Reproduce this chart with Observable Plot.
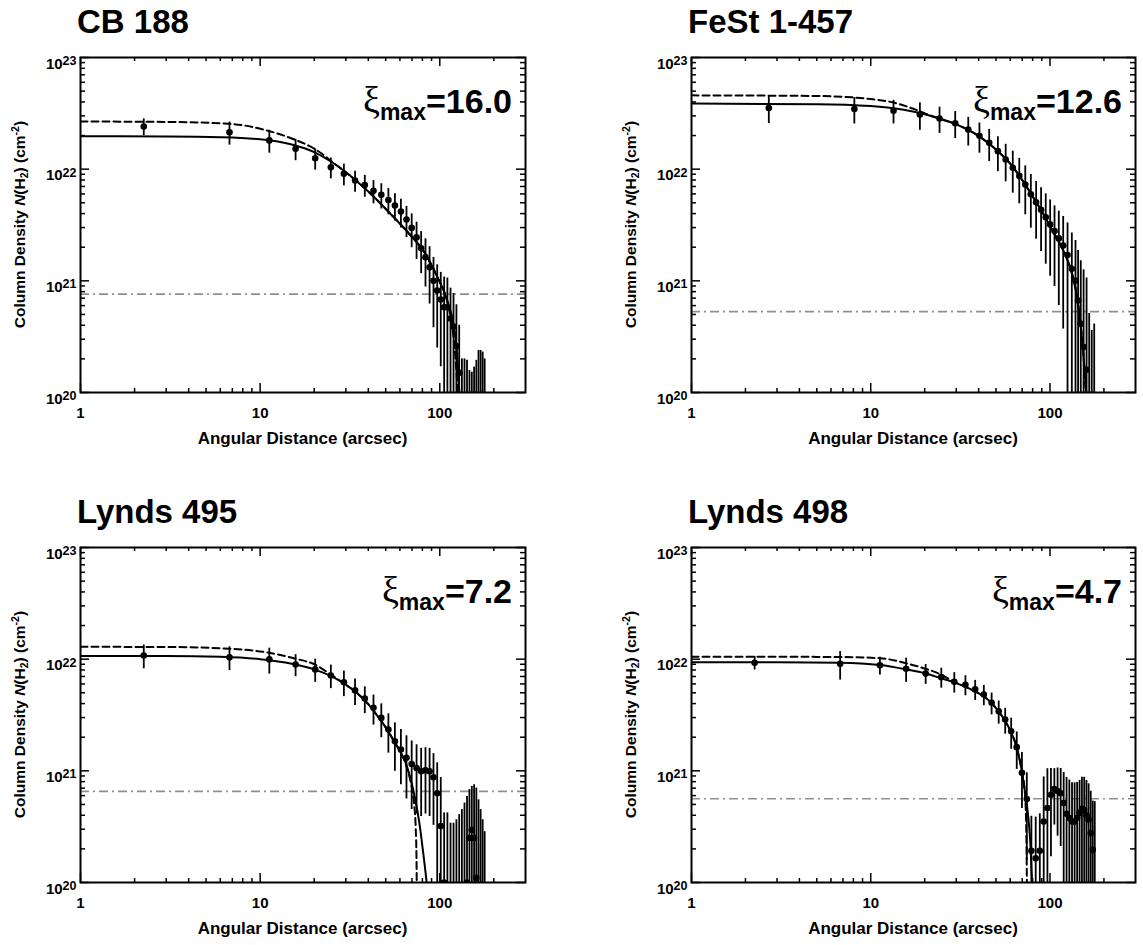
<!DOCTYPE html>
<html>
<head>
<meta charset="utf-8">
<script src="https://cdn.jsdelivr.net/npm/d3@7"></script>
<script src="https://cdn.jsdelivr.net/npm/@observablehq/plot@0.6"></script>
<style>
  body { margin: 0; background: #fff; }
  #page { position: relative; width: 1143px; height: 945px; overflow: hidden; background: #fff; }
  #page svg { position: absolute; }
</style>
</head>
<body>
<div id="page"></div>
<script>
// ---------------- data ----------------
const titles = ["CB 188", "FeSt 1-457", "Lynds 495", "Lynds 498"];
const xiMax = ["16.0", "12.6", "7.2", "4.7"];
const limits = [7.6e20, 5.3e20, 6.55e20, 5.62e20];

// radial bins (arcsec)
const binsA = [2.25, 6.75, 11.25, 15.75, 20.25, 24.75, 29.25, 33.75, 38.25, 42.75, 47.25, 51.75, 56.25, 60.75, 65.25, 69.75, 74.25, 78.75, 83.25, 87.75, 92.25, 96.75, 101.25, 105.75, 110.25, 114.75, 119.25, 123.75, 128.25, 132.75, 137.25, 141.75, 146.25, 150.75, 155.25, 159.75, 164.25, 168.75, 173.25, 177.75];
const binsB = [2.7, 8.1, 13.4, 18.8, 24.2, 29.6, 35.0, 40.4, 45.8, 51.2, 56.6, 62.0, 67.4, 72.8, 78.2, 83.7, 89.2, 94.7, 100.2, 106.0, 112.0, 118.5, 125.3, 132.4, 138.8, 143.5, 148.5, 154.0, 160.0, 165.5, 171.0, 176.5];

// CB 188
const cb188N = [2.41e22, 2.14e22, 1.81e22, 1.52e22, 1.25e22, 1.04e22, 9.1e21, 7.9e21, 7.2e21, 6.4e21, 5.9e21, 5.3e21, 4.73e21, 4.17e21, 3.54e21, 2.98e21, 2.45e21, 1.96e21, 1.63e21, 1.32e21, 1.0e21, 8.2e20, 6.8e20, 5.8e20, 5.8e20, 4.6e20, 3.9e20, 2.6e20, 1.5e20, 3e19, 3e19, 3e19, 3e19, 3e19, 3e19, 3e19, 3e19, 3e19, 3e19, 3e19];
const cb188Err = [4.1e21, 5.0e21, 4.2e21, 3.3e21, 2.7e21, 2.2e21, 2.0e21, 1.7e21, 1.6e21, 1.5e21, 1.5e21, 1.4e21, 1.3e21, 1.2e21, 1.1e21, 1.0e21, 9e20, 8e20, 7.5e20, 7e20, 6.2e20, 5.7e20, 5.1e20, 5e20, 4.8e20, 4e20, 3.8e20, 3.5e20, 2.5e20, 1.7e20, 1.7e20, 1.64e20, 1.27e20, 1.22e20, 1.39e20, 1.64e20, 2.08e20, 2.08e20, 2.0e20, 1.7e20];
const cb188SolidX = [1, 3, 6, 10, 15, 20, 25, 30, 40, 53, 66, 82, 97, 110, 120, 125, 128.5, 130];
const cb188SolidN = [1.97e22, 1.96e22, 1.93e22, 1.85e22, 1.66e22, 1.42e22, 1.16e22, 9.4e21, 6.3e21, 4.0e21, 2.75e21, 1.8e21, 1.08e21, 6.7e20, 3.85e20, 2.2e20, 1.0e20, 0.7e20];
const cb188DashX = [1, 3, 6.75, 11.25, 15.7, 19, 22, 25, 30, 40, 53, 66, 82, 97, 110, 118, 123, 125.5, 126.5];
const cb188DashN = [2.67e22, 2.65e22, 2.55e22, 2.19e22, 1.83e22, 1.6e22, 1.38e22, 1.17e22, 9.4e21, 6.3e21, 4.0e21, 2.75e21, 1.8e21, 1.08e21, 6.5e20, 3.6e20, 1.8e20, 1.0e20, 0.7e20];

// FeSt 1-457
const fest457N = [3.53e22, 3.46e22, 3.34e22, 3.08e22, 2.84e22, 2.58e22, 2.26e22, 1.99e22, 1.72e22, 1.45e22, 1.22e22, 1.03e22, 8.7e21, 7.3e21, 5.96e21, 5.06e21, 4.33e21, 3.71e21, 3.2e21, 2.79e21, 2.4e21, 2.07e21, 1.7e21, 1.28e21, 1.0e21, 6.67e20, 4.12e20, 2.55e20, 1.6e20, 3e19, 3e19, 3e19];
const fest457Err = [9.7e21, 9.2e21, 8.0e21, 8.5e21, 7.5e21, 7.0e21, 6.5e21, 6.0e21, 5.5e21, 5.0e21, 4.5e21, 4.2e21, 3.8e21, 3.4e21, 3.0e21, 2.7e21, 2.5e21, 2.3e21, 2.1e21, 1.9e21, 1.8e21, 1.7e21, 1.6e21, 1.4e21, 1.3e21, 1.2e21, 1.1e21, 1.0e21, 9e20, 4.8e20, 3.3e20, 3.8e20];
const fest457SolidX = [1, 5, 10, 15, 20, 25, 30, 40, 50, 60, 70, 80, 90, 100, 110, 120, 130, 138, 143, 148, 153, 157, 160];
const fest457SolidN = [3.87e22, 3.82e22, 3.68e22, 3.42e22, 3.1e22, 2.8e22, 2.52e22, 1.98e22, 1.5e22, 1.12e22, 8.0e21, 5.7e21, 4.2e21, 3.1e21, 2.35e21, 1.8e21, 1.3e21, 9e20, 6.5e20, 4.1e20, 2.4e20, 1.4e20, 0.9e20];
const fest457DashX = [1, 5, 10, 13.4, 18.8, 22, 25, 30, 40, 50, 60, 70, 80, 90, 100, 110, 120, 130, 138, 143, 148, 153, 157, 159];
const fest457DashN = [4.58e22, 4.52e22, 4.25e22, 3.95e22, 3.3e22, 2.98e22, 2.78e22, 2.52e22, 1.98e22, 1.5e22, 1.12e22, 8.0e21, 5.7e21, 4.2e21, 3.1e21, 2.35e21, 1.8e21, 1.3e21, 9e20, 6.5e20, 4.1e20, 2.4e20, 1.3e20, 0.9e20];

// Lynds 495
const l495N = [1.08e22, 1.04e22, 9.95e21, 8.97e21, 8.1e21, 7.15e21, 6.22e21, 5.25e21, 4.45e21, 3.67e21, 2.98e21, 2.34e21, 1.84e21, 1.55e21, 1.31e21, 1.15e21, 1.06e21, 9.9e20, 1.01e21, 9.9e20, 8.75e20, 6.3e20, 3.2e20, 1.0e20, 3e19, 3e19, 3e19, 3e19, 3e19, 3e19, 3e19, 1.0e20, 2.5e20, 2.95e20, 2.5e20, 1.1e20, 3e19, 3e19, 3e19, 3e19];
const l495Err = [2.6e21, 2.5e21, 2.6e21, 2.0e21, 1.9e21, 1.7e21, 1.6e21, 1.4e21, 1.2e21, 1.1e21, 1.0e21, 9e20, 8.5e20, 8e20, 7.5e20, 7e20, 6.5e20, 6e20, 6e20, 6e20, 5.5e20, 5.5e20, 5.5e20, 3.2e20, 3.9e20, 3.1e20, 3.1e20, 3.35e20, 3.75e20, 4.2e20, 4.85e20, 4.9e20, 4.3e20, 4.3e20, 5.0e20, 5.9e20, 5.2e20, 4.2e20, 3.35e20, 2.55e20];
const l495SolidX = [1, 3, 6, 10, 15, 20, 25, 30, 35, 40, 45, 50, 55, 60, 65, 69, 72.6, 77, 81, 84.5, 86];
const l495SolidN = [1.07e22, 1.07e22, 1.05e22, 1.0e22, 9.1e21, 8.1e21, 7.0e21, 5.9e21, 4.9e21, 3.95e21, 3.1e21, 2.45e21, 1.9e21, 1.5e21, 1.15e21, 8.3e20, 5.8e20, 3.4e20, 1.8e20, 1.0e20, 0.75e20];
const l495DashX = [1, 3, 6.75, 11.25, 15.75, 20, 25, 30, 35, 40, 45, 50, 55, 60, 65, 69, 72, 73.5, 74.2, 74.5];
const l495DashN = [1.29e22, 1.285e22, 1.24e22, 1.14e22, 1.01e22, 9.0e21, 7.2e21, 5.9e21, 4.9e21, 3.95e21, 3.1e21, 2.45e21, 1.9e21, 1.5e21, 1.12e21, 7.8e20, 5.0e20, 3.0e20, 1.6e20, 0.8e20];

// Lynds 498
const l498N = [9.3e21, 9.1e21, 8.8e21, 8.2e21, 7.45e21, 6.9e21, 6.27e21, 5.9e21, 5.36e21, 4.83e21, 4.07e21, 3.42e21, 2.88e21, 2.26e21, 1.63e21, 9.6e20, 5.59e20, 1.92e20, 1.65e20, 1.92e20, 3.52e20, 4.65e20, 6.1e20, 6.87e20, 6.6e20, 6.3e20, 5.15e20, 4.13e20, 3.78e20, 3.52e20, 3.52e20, 3.78e20, 4.2e20, 4.57e20, 4.45e20, 4.0e20, 3.65e20, 2.77e20, 1.96e20, 3e19];
const l498Err = [1.3e21, 2.6e21, 1.6e21, 2.0e21, 1.5e21, 1.4e21, 1.3e21, 1.2e21, 1.1e21, 1.0e21, 9e20, 8e20, 7.5e20, 7e20, 6e20, 5e20, 4e20, 2.0e20, 2.2e20, 2.2e20, 5.3e20, 5.8e20, 4.4e20, 3.6e20, 4.0e20, 4.2e20, 4.5e20, 4.6e20, 4.5e20, 4.3e20, 4.3e20, 4.1e20, 4.0e20, 4.2e20, 4.3e20, 4.2e20, 4.0e20, 3.8e20, 3.4e20, 5.0e20];
const l498SolidX = [1, 3, 6.73, 11.3, 15.7, 20.2, 24.6, 30, 35, 40, 45, 50, 55, 60, 65, 69.6, 72.5, 75.5, 77.5, 79.5, 80.5];
const l498SolidN = [9.4e21, 9.38e21, 9.3e21, 8.85e21, 8.1e21, 7.45e21, 6.76e21, 6.1e21, 5.5e21, 4.95e21, 4.35e21, 3.65e21, 2.95e21, 2.3e21, 1.65e21, 1.0e21, 6.5e20, 4.0e20, 2.4e20, 1.0e20, 0.7e20];
const l498DashX = [1, 3, 6.73, 11.3, 15.7, 20.2, 24.6, 29, 35, 40, 45, 50, 55, 60, 65, 69.6, 72.5, 73.6, 74.1, 74.4];
const l498DashN = [1.05e22, 1.05e22, 1.045e22, 1.02e22, 9.2e21, 8.2e21, 7.3e21, 6.3e21, 5.5e21, 4.95e21, 4.35e21, 3.65e21, 2.95e21, 2.3e21, 1.65e21, 1.0e21, 6.2e20, 3.5e20, 1.8e20, 0.8e20];

// axes
const xDomain = [1, 300];
const yDomain = [1e20, 1e23];
const xMajor = [1, 10, 100];
const xMinor = [2, 3, 4, 5, 6, 7, 8, 9, 20, 30, 40, 50, 60, 70, 80, 90, 200];
const yMajor = [1e20, 1e21, 1e22, 1e23];
const yMinor = [2e20, 3e20, 4e20, 5e20, 6e20, 7e20, 8e20, 9e20, 2e21, 3e21, 4e21, 5e21, 6e21, 7e21, 8e21, 9e21, 2e22, 3e22, 4e22, 5e22, 6e22, 7e22, 8e22, 9e22];
const xLabel = "Angular Distance (arcsec)";

// ---------------- layout ----------------
const SANS = "'Liberation Sans', Arial, Helvetica, sans-serif";
const panels = [
  {left: 0,   top: 0,   width: 571, x: binsA, n: cb188N, err: cb188Err, sx: cb188SolidX, sn: cb188SolidN, dx: cb188DashX, dn: cb188DashN},
  {left: 611, top: 0,   width: 532, x: binsB, n: fest457N, err: fest457Err, sx: fest457SolidX, sn: fest457SolidN, dx: fest457DashX, dn: fest457DashN},
  {left: 0,   top: 490, width: 571, x: binsA, n: l495N, err: l495Err, sx: l495SolidX, sn: l495SolidN, dx: l495DashX, dn: l495DashN},
  {left: 611, top: 490, width: 532, x: binsA, n: l498N, err: l498Err, sx: l498SolidX, sn: l498SolidN, dx: l498DashX, dn: l498DashN}
];
const H = 455, ML = 80, MT = 57, MB = 63, FH = H - MT - MB;

function rich(sel, parts) {
  let shift = 0;
  for (const p of parts) {
    const s = p.shift || 0;
    const t = sel.append("tspan").text(p.t).attr("dy", s - shift);
    if (p.size) t.style("font-size", p.size + "px");
    if (p.italic) t.style("font-style", "italic");
    if (p.family) t.style("font-family", p.family);
    if (p.weight) t.style("font-weight", p.weight);
    shift = s;
  }
}

const page = document.getElementById("page");
panels.forEach((p, i) => {
  const FW = p.width === 571 ? 445 : 444;
  const MR = p.width - ML - FW;
  const pts = p.x.map((x, j) => ({x, y: p.n[j], lo: Math.max(p.n[j] - p.err[j], 1e19), hi: p.n[j] + p.err[j]}));
  const solid = p.sx.map((x, j) => ({x, y: p.sn[j]}));
  const dashed = p.dx.map((x, j) => ({x, y: p.dn[j]}));
  const tick = {stroke: "black", strokeWidth: 1.5};
  const svg = Plot.plot({
    width: p.width, height: H,
    marginLeft: ML, marginRight: MR, marginTop: MT, marginBottom: MB,
    style: {fontFamily: SANS, background: "white", overflow: "visible"},
    x: {type: "log", domain: xDomain, axis: null},
    y: {type: "log", domain: yDomain, axis: null},
    marks: [
      Plot.ruleY([limits[i]], {stroke: "#8f8f8f", strokeWidth: 1.6, strokeDasharray: "9,4,2,4"}),
      Plot.ruleX(pts, {x: "x", y1: "lo", y2: "hi", stroke: "black", strokeWidth: 1.8, clip: true}),
      Plot.dot(pts, {x: "x", y: "y", r: 3.3, fill: "black", stroke: "none", clip: true}),
      Plot.line(solid, {x: "x", y: "y", stroke: "black", strokeWidth: 2, curve: "monotone-x", clip: true}),
      Plot.line(dashed, {x: "x", y: "y", stroke: "black", strokeWidth: 2, strokeDasharray: "7,4", curve: "monotone-x", clip: true}),
      Plot.frame({stroke: "black", strokeWidth: 2}),
      Plot.tickX(xMajor, {x: d => d, insetTop: FH - 9, ...tick}),
      Plot.tickX(xMajor, {x: d => d, insetBottom: FH - 9, ...tick}),
      Plot.tickX(xMinor, {x: d => d, insetTop: FH - 4, ...tick}),
      Plot.tickX(xMinor, {x: d => d, insetBottom: FH - 4, ...tick}),
      Plot.tickY(yMajor, {y: d => d, insetRight: FW - 9, ...tick}),
      Plot.tickY(yMajor, {y: d => d, insetLeft: FW - 9, ...tick}),
      Plot.tickY(yMinor, {y: d => d, insetRight: FW - 5, ...tick}),
      Plot.tickY(yMinor, {y: d => d, insetLeft: FW - 5, ...tick}),
      Plot.axisX({ticks: xMajor, anchor: "bottom", tickSize: 0, tickPadding: 15, tickFormat: d => String(d), label: null, fontSize: 15, fontWeight: "bold"}),
      Plot.axisY({ticks: yMajor, anchor: "left", tickSize: 0, tickPadding: 4, tickFormat: d => "10^" + Math.round(Math.log10(d)), label: null, fontSize: 15, fontWeight: "bold"})
    ]
  });
  svg.style.left = p.left + "px";
  svg.style.top = p.top + "px";
  page.appendChild(svg);
  const s = d3.select(svg);

  // tick label fonts (inline style wins over the default stylesheet)
  s.selectAll('[aria-label="x-axis tick label"] text, [aria-label="y-axis tick label"] text')
    .style("font-size", "15px").style("font-weight", "bold").style("font-family", SANS).style("fill", "black");

  // superscript exponents on y tick labels
  s.selectAll('[aria-label="y-axis tick label"] text').each(function() {
    const txt = this.textContent;
    if (!txt.includes("^")) return;
    const [base, exp] = txt.split("^");
    const t = d3.select(this);
    t.text(null).attr("dy", "0.42em");
    t.append("tspan").text(base);
    t.append("tspan").text(exp).style("font-size", "12.5px").attr("dy", "-0.3em");
  });

  // title
  s.append("text").attr("x", ML - 3).attr("y", 33).attr("text-anchor", "start")
    .style("font-family", SANS).style("font-weight", "bold").style("font-size", "33px").attr("fill", "black")
    .text(titles[i]);

  // x axis label
  s.append("text").attr("x", ML + FW / 2).attr("y", 444).attr("text-anchor", "middle")
    .style("font-family", SANS).style("font-weight", "bold").style("font-size", "17px").attr("fill", "black")
    .text(xLabel);

  // y axis label
  const yl = s.append("text").attr("transform", `translate(${ML - 55},${MT + FH / 2}) rotate(-90)`)
    .attr("text-anchor", "middle")
    .style("font-family", SANS).style("font-weight", "bold").style("font-size", "15.5px").attr("fill", "black");
  rich(yl, [
    {t: "Column Density "}, {t: "N", italic: true}, {t: "(H"}, {t: "2", size: 10.5, shift: 3}, {t: ") (cm"},
    {t: "-2", size: 10.5, shift: -6}, {t: ")"}
  ]);

  // xi_max label
  const xl = s.append("text").attr("x", ML + FW - 13).attr("y", MT + 56).attr("text-anchor", "end")
    .style("font-family", SANS).style("font-weight", "bold").style("font-size", "34px").attr("fill", "black");
  rich(xl, [
    {t: "ξ", family: "'Liberation Serif', 'DejaVu Serif', serif", weight: "normal", size: 38},
    {t: "max", size: 23, shift: 7},
    {t: "=", size: 34, shift: 0},
    {t: xiMax[i], size: 34}
  ]);
});
</script>
</body>
</html>
